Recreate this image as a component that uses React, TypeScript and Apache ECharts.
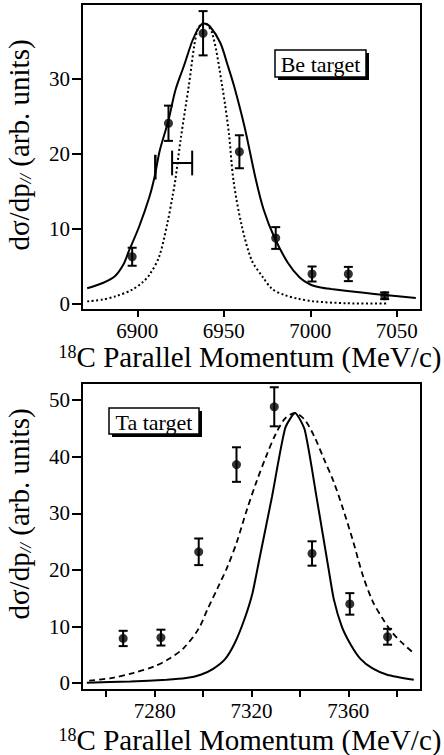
import React, { useEffect, useRef } from "react";
import * as echarts from "echarts";

// ---- Be target (top panel) ----
const beX = [6897, 6918, 6938, 6959, 6980, 7001, 7022, 7043];
const beY = [6.3, 24.1, 36.1, 20.3, 8.8, 4.0, 4.0, 1.1];
const beErr = [1.2, 2.35, 2.95, 2.2, 1.45, 1.0, 0.95, 0.45];

const beSolidX = [6871, 6880, 6887, 6892, 6895, 6901, 6907, 6910, 6913, 6918, 6922, 6927, 6932, 6936, 6938.5, 6942, 6948, 6952, 6956, 6962, 6968.5, 6973, 6979, 6987, 6994, 7000, 7006, 7012, 7031, 7043, 7061];
const beSolidY = [2.1, 2.8, 3.7, 5.3, 7.0, 10.3, 14.3, 17.0, 20.5, 24.5, 28.5, 31.8, 35.2, 37.0, 37.4, 37.0, 34.8, 32.0, 29.0, 23.6, 16.6, 12.6, 9.0, 5.5, 3.5, 2.6, 2.2, 2.0, 1.5, 1.2, 0.8];

const beDotX = [6871, 6880, 6887, 6897, 6903, 6907, 6912.6, 6917.4, 6920.3, 6922, 6925, 6929.7, 6934.6, 6938.5, 6943.3, 6949.1, 6952.9, 6955.5, 6960, 6966, 6972.5, 6978, 6985, 6993, 7002, 7021, 7045];
const beDotY = [0.35, 0.6, 1.0, 1.9, 2.9, 3.9, 6.3, 10.8, 14.3, 16.6, 21.9, 29.0, 36.5, 37.5, 36.1, 29.0, 22.8, 16.6, 10.8, 5.9, 3.6, 2.0, 1.2, 0.7, 0.35, 0.1, 0.05];

// resolution markers: [xLow, xHigh, y, capHalf]
const beResH = [[6920.1, 6931.7, 18.8, 1.65]];
// [x, yLow, yHigh]
const beResV = [[6910.4, 16.6, 19.9]];

const beXTicks = [6900, 6950, 7000, 7050];
const beYTicks = [0, 10, 20, 30];

// ---- Ta target (bottom panel) ----
const taX = [7267, 7282.6, 7298.2, 7313.8, 7329.4, 7345, 7360.6, 7376.2];
const taY = [7.9, 8.05, 23.2, 38.6, 48.8, 22.9, 14.0, 8.2];
const taErr = [1.35, 1.4, 2.35, 3.05, 3.45, 2.15, 1.9, 1.4];

const taSolidX = [7252, 7270, 7285, 7293, 7299, 7304, 7309, 7313, 7317, 7320.4, 7323.2, 7328.5, 7333.9, 7338, 7342, 7347, 7351.9, 7354, 7357.3, 7361, 7365, 7370, 7376, 7387];
const taSolidY = [0.1, 0.3, 0.6, 0.9, 1.5, 2.5, 4.2, 7.0, 11.2, 15.9, 21.8, 33.0, 45.0, 47.7, 44.7, 32.5, 20.0, 14.8, 10.0, 6.8, 4.3, 2.6, 1.5, 0.6];

const taDashX = [7253, 7262, 7271, 7280, 7286, 7292, 7298, 7302, 7306, 7310, 7314, 7318, 7322, 7326, 7330, 7334, 7338, 7342, 7346, 7350, 7354, 7358, 7362, 7366, 7370, 7374, 7378, 7382, 7387];
const taDashY = [0.45, 0.9, 1.8, 3.0, 4.3, 6.2, 9.5, 13.2, 16.8, 20.5, 25.0, 30.5, 35.5, 40.0, 44.0, 46.8, 47.7, 46.5, 43.5, 39.5, 35.5, 30.5, 25.0, 19.0, 14.5, 11.5, 9.0, 7.2, 5.3];

const taXTicks = [7260, 7280, 7300, 7320, 7340, 7360, 7380];
const taXLabels = [7280, 7320, 7360];
const taYTicks = [0, 10, 20, 30, 40, 50];

const FONT = "Liberation Serif";

function zip(a: number[], b: number[]) {
  return a.map((v, i) => [v, b[i]]);
}

function errData(x: number[], y: number[], e: number[]) {
  return x.map((v, i) => [v, y[i], e[i]]);
}

const lineStyle = { stroke: "#000", lineWidth: 2 };

function renderErr(params: any, api: any) {
  const x = api.value(0);
  const y = api.value(1);
  const e = api.value(2);
  const t = api.coord([x, y + e]);
  const b = api.coord([x, y - e]);
  const hw = 4.5;
  return {
    type: "group",
    children: [
      { type: "line", shape: { x1: t[0], y1: t[1], x2: b[0], y2: b[1] }, style: lineStyle },
      { type: "line", shape: { x1: t[0] - hw, y1: t[1], x2: t[0] + hw, y2: t[1] }, style: lineStyle },
      { type: "line", shape: { x1: b[0] - hw, y1: b[1], x2: b[0] + hw, y2: b[1] }, style: lineStyle },
    ],
  };
}

function renderResH(params: any, api: any) {
  const x0 = api.value(0);
  const x1 = api.value(1);
  const y = api.value(2);
  const c = api.value(3);
  const a = api.coord([x0, y]);
  const b = api.coord([x1, y]);
  const at = api.coord([x0, y + c]);
  const ab = api.coord([x0, y - c]);
  const bt = api.coord([x1, y + c]);
  const bb = api.coord([x1, y - c]);
  return {
    type: "group",
    children: [
      { type: "line", shape: { x1: a[0], y1: a[1], x2: b[0], y2: b[1] }, style: lineStyle },
      { type: "line", shape: { x1: at[0], y1: at[1], x2: ab[0], y2: ab[1] }, style: lineStyle },
      { type: "line", shape: { x1: bt[0], y1: bt[1], x2: bb[0], y2: bb[1] }, style: lineStyle },
    ],
  };
}

function renderResV(params: any, api: any) {
  const x = api.value(0);
  const lo = api.coord([x, api.value(1)]);
  const hi = api.coord([x, api.value(2)]);
  return {
    type: "line",
    shape: { x1: lo[0], y1: lo[1], x2: hi[0], y2: hi[1] },
    style: { stroke: "#000", lineWidth: 2.5 },
  };
}

const plainFmt = (v: number) => String(v);

function xAxisCfg(gridIndex: number, min: number, max: number, ticks: number[], labels: number[]) {
  return {
    type: "value",
    gridIndex,
    min,
    max,
    axisLine: { show: true, onZero: false, lineStyle: { color: "#000", width: 2 } },
    axisTick: { show: true, inside: false, length: 7, customValues: ticks, lineStyle: { color: "#000", width: 2 } },
    axisLabel: { show: true, customValues: labels, formatter: plainFmt, color: "#000", fontFamily: FONT, fontSize: 21, margin: 10 },
    splitLine: { show: false },
  };
}

function yAxisCfg(gridIndex: number, min: number, max: number, ticks: number[]) {
  return {
    type: "value",
    gridIndex,
    min,
    max,
    axisLine: { show: true, onZero: false, lineStyle: { color: "#000", width: 2 } },
    axisTick: { show: true, inside: false, length: 10, customValues: ticks, lineStyle: { color: "#000", width: 2 } },
    axisLabel: { show: true, customValues: ticks, formatter: plainFmt, color: "#000", fontFamily: FONT, fontSize: 21, margin: 12 },
    splitLine: { show: false },
  };
}

function legendBox(x: number, y: number, w: number, h: number, text: string) {
  return {
    type: "group",
    children: [
      { type: "rect", shape: { x: x + 3, y: y + 3, width: w, height: h }, style: { fill: "#000" }, z: 10 },
      { type: "rect", shape: { x, y, width: w, height: h }, style: { fill: "#fff", stroke: "#000", lineWidth: 1.5 }, z: 11 },
      {
        type: "text",
        x: x + w / 2,
        y: y + h / 2 + 1,
        z: 12,
        style: { text, fill: "#000", fontFamily: FONT, fontSize: 22, align: "center", verticalAlign: "middle" },
      },
    ],
  };
}

function xTitle(cx: number, cy: number) {
  return {
    type: "text",
    x: cx,
    y: cy,
    z: 12,
    style: {
      text: "{sup|18}{m|C Parallel Momentum (MeV/c)}",
      align: "center",
      verticalAlign: "middle",
      fill: "#000",
      fontFamily: FONT,
      rich: {
        sup: { fontFamily: FONT, fontSize: 18, verticalAlign: "top", fill: "#000" },
        m: { fontFamily: FONT, fontSize: 29, fill: "#000" },
      },
    },
  };
}

function yTitle(cx: number, cy: number) {
  return {
    type: "text",
    x: cx,
    y: cy,
    rotation: Math.PI / 2,
    z: 12,
    style: {
      text: "{m|dσ/dp}{s|//}{m| (arb. units)}",
      align: "center",
      verticalAlign: "middle",
      fill: "#000",
      fontFamily: FONT,
      rich: {
        m: { fontFamily: FONT, fontSize: 29, fill: "#000" },
        s: { fontFamily: FONT, fontSize: 17, fontStyle: "italic", verticalAlign: "bottom", fill: "#000" },
      },
    },
  };
}

export default function App() {
  const ref = useRef<HTMLDivElement>(null);

  useEffect(() => {
    if (!ref.current) return;
    const chart = echarts.init(ref.current, null, { renderer: "svg" });
    const option: any = {
      animation: false,
      backgroundColor: "#fff",
      textStyle: { fontFamily: FONT },
      grid: [
        { left: 82, top: 4, width: 339, height: 306, show: true, borderColor: "#000", borderWidth: 2, backgroundColor: "transparent" },
        { left: 82, top: 383, width: 339, height: 307, show: true, borderColor: "#000", borderWidth: 2, backgroundColor: "transparent" },
      ],
      xAxis: [
        xAxisCfg(0, 6868, 7064, beXTicks, beXTicks),
        xAxisCfg(1, 7250, 7390, taXTicks, taXLabels),
      ],
      yAxis: [
        yAxisCfg(0, -0.8, 40, beYTicks),
        yAxisCfg(1, -1.2, 53, taYTicks),
      ],
      series: [
        {
          type: "line", xAxisIndex: 0, yAxisIndex: 0, data: zip(beSolidX, beSolidY),
          showSymbol: false, smooth: 0.3, lineStyle: { color: "#000", width: 2 }, z: 3,
        },
        {
          type: "line", xAxisIndex: 0, yAxisIndex: 0, data: zip(beDotX, beDotY),
          showSymbol: false, smooth: 0.3, lineStyle: { color: "#000", width: 2, type: [2, 2.5] }, z: 3,
        },
        {
          type: "custom", xAxisIndex: 0, yAxisIndex: 0, data: errData(beX, beY, beErr),
          renderItem: renderErr, encode: { x: 0, y: 1 }, z: 4,
        },
        {
          type: "scatter", xAxisIndex: 0, yAxisIndex: 0, data: zip(beX, beY),
          symbol: "circle", symbolSize: 9, itemStyle: { color: "#000" }, z: 5,
        },
        {
          type: "custom", xAxisIndex: 0, yAxisIndex: 0, data: beResH,
          renderItem: renderResH, encode: { x: [0, 1], y: 2 }, z: 4,
        },
        {
          type: "custom", xAxisIndex: 0, yAxisIndex: 0, data: beResV,
          renderItem: renderResV, encode: { x: 0, y: [1, 2] }, z: 4,
        },
        {
          type: "line", xAxisIndex: 1, yAxisIndex: 1, data: zip(taSolidX, taSolidY),
          showSymbol: false, smooth: 0.2, lineStyle: { color: "#000", width: 2 }, z: 3,
        },
        {
          type: "line", xAxisIndex: 1, yAxisIndex: 1, data: zip(taDashX, taDashY),
          showSymbol: false, smooth: 0.3, lineStyle: { color: "#000", width: 1.8, type: [6, 4] }, z: 3,
        },
        {
          type: "custom", xAxisIndex: 1, yAxisIndex: 1, data: errData(taX, taY, taErr),
          renderItem: renderErr, encode: { x: 0, y: 1 }, z: 4,
        },
        {
          type: "scatter", xAxisIndex: 1, yAxisIndex: 1, data: zip(taX, taY),
          symbol: "circle", symbolSize: 9, itemStyle: { color: "#000" }, z: 5,
        },
      ],
      graphic: [
        legendBox(275, 50, 91, 27, "Be target"),
        legendBox(109, 408, 90, 26, "Ta target"),
        xTitle(250, 357),
        xTitle(250, 740),
        yTitle(19, 145),
        yTitle(19, 514),
      ],
    };
    chart.setOption(option);
    return () => chart.dispose();
  }, []);

  return (
    <div
      ref={ref}
      style={{ position: "absolute", left: 0, top: 0, width: 444, height: 755, background: "#fff" }}
    />
  );
}
